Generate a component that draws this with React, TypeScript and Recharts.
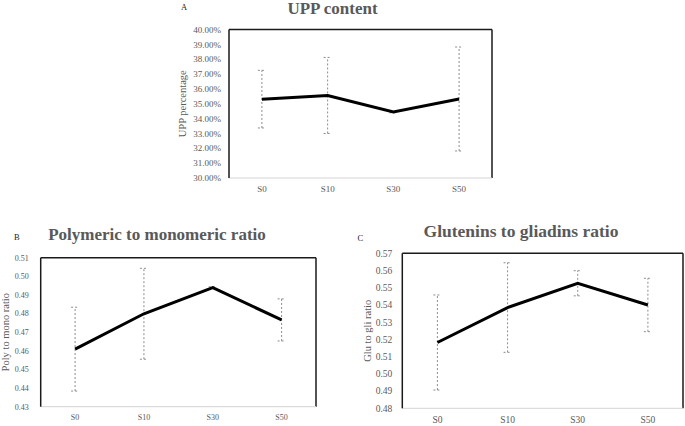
import React from 'react';
import { LineChart, Line, XAxis, YAxis, ErrorBar, CartesianGrid } from 'recharts';

const samples = ['S0', 'S10', 'S30', 'S50'];

const uppMean = [35.31, 35.56, 34.44, 35.32];
const uppErr = [1.94, 2.56, 0.05, 3.5];
const uppTicks = [30, 31, 32, 33, 34, 35, 36, 37, 38, 39, 40];

const polyMean = [0.4609, 0.4799, 0.4939, 0.4766];
const polyErr = [0.0225, 0.0244, 0.0005, 0.0113];
const polyTicks = [0.43, 0.44, 0.45, 0.46, 0.47, 0.48, 0.49, 0.5, 0.51];

const gluMean = [0.5182, 0.5385, 0.5526, 0.54];
const gluErr = [0.0276, 0.026, 0.0073, 0.0155];
const gluTicks = [0.48, 0.49, 0.5, 0.51, 0.52, 0.53, 0.54, 0.55, 0.56, 0.57];

const FONT = '"Liberation Serif", "Times New Roman", serif';
const GREY = '#595959';

const toRows = (mean: number[], err: number[]) =>
  samples.map((name, i) => ({ name, value: mean[i], err: err[i] }));

type PanelProps = {
  rows: { name: string; value: number; err: number }[];
  ticks: number[];
  fmt: (v: number) => string;
  left: number;
  top: number;
  width: number;
  height: number;
  margin: { top: number; right: number; bottom: number; left: number };
  yWidth: number;
  xHeight: number;
  xPad: number;
  yLabel: string;
  labelDx: number;
  fontSize: number;
  tickDx: number;
};

const Panel = (p: PanelProps) => {
  const domain: [number, number] = [p.ticks[0], p.ticks[p.ticks.length - 1]];
  return (
    <div style={{ position: 'absolute', left: p.left, top: p.top }}>
      <LineChart width={p.width} height={p.height} data={p.rows} margin={p.margin}>
        {/* top and right frame of the plot box */}
        <CartesianGrid
          stroke="#1a1a1a"
          strokeWidth={1.5}
          horizontalCoordinatesGenerator={({ offset }: any) => [offset.top]}
          verticalCoordinatesGenerator={({ offset }: any) => [offset.left + offset.width]}
        />
        <XAxis
          dataKey="name"
          tickLine={false}
          axisLine={{ stroke: '#d4d4d4', strokeWidth: 1 }}
          height={p.xHeight}
          padding={{ left: p.xPad, right: p.xPad }}
          interval={0}
          tick={{ fill: GREY, fontSize: p.fontSize, fontFamily: FONT }}
        />
        <YAxis
          type="number"
          domain={domain}
          ticks={p.ticks}
          interval={0}
          width={p.yWidth}
          tickLine={false}
          axisLine={{ stroke: '#1a1a1a', strokeWidth: 1.5 }}
          tickFormatter={p.fmt}
          tick={{ fill: GREY, fontSize: p.fontSize, fontFamily: FONT, dx: p.tickDx }}
          label={{
            value: p.yLabel,
            angle: -90,
            position: 'center',
            dx: p.labelDx,
            style: { fill: GREY, fontSize: 10.5, fontFamily: FONT, textAnchor: 'middle' },
          }}
        />
        <Line type="linear" dataKey="value" stroke="#000" strokeWidth={3} dot={false} isAnimationActive={false}>
          <ErrorBar dataKey="err" direction="y" width={4} stroke="#8c8c8c" strokeWidth={1} strokeDasharray="2 2" />
        </Line>
      </LineChart>
    </div>
  );
};

export default function App() {
  return (
    <div style={{ position: 'absolute', left: 0, top: 0, width: 685, height: 426, background: '#fff', overflow: 'hidden' }}>
      <Panel
        rows={toRows(uppMean, uppErr)}
        ticks={uppTicks}
        fmt={(v) => `${v.toFixed(2)}%`}
        left={160}
        top={0}
        width={360}
        height={205}
        margin={{ top: 29.5, right: 28, bottom: 7, left: 0 }}
        yWidth={69}
        xHeight={20}
        xPad={32.9}
        yLabel="UPP percentage"
        labelDx={-12.5}
        fontSize={9}
        tickDx={0}
      />
      <Panel
        rows={toRows(polyMean, polyErr)}
        ticks={polyTicks}
        fmt={(v) => v.toFixed(2)}
        left={0}
        top={215}
        width={330}
        height={211}
        margin={{ top: 42.7, right: 14, bottom: 1.3, left: 0 }}
        yWidth={40.7}
        xHeight={18}
        xPad={34.4}
        yLabel="Poly to mono ratio"
        labelDx={-15.3}
        fontSize={8}
        tickDx={-4}
      />
      <Panel
        rows={toRows(gluMean, gluErr)}
        ticks={gluTicks}
        fmt={(v) => v.toFixed(2)}
        left={345}
        top={215}
        width={340}
        height={211}
        margin={{ top: 38.3, right: 2, bottom: 0.7, left: 0 }}
        yWidth={57.3}
        xHeight={17}
        xPad={35.1}
        yLabel="Glu to gli ratio"
        labelDx={-6.6}
        fontSize={9.5}
        tickDx={-2}
      />
      <svg width={685} height={426} style={{ position: 'absolute', left: 0, top: 0, pointerEvents: 'none' }}>
        <g fontFamily={FONT}>
          <text x={181} y={10} fontSize={8.5} fill="#222">A</text>
          <text x={332.5} y={14} fontSize={17} fontWeight="bold" fill={GREY} textAnchor="middle">UPP content</text>
          <text x={14} y={239.5} fontSize={8.5} fill="#222">B</text>
          <text x={157} y={240} fontSize={17} fontWeight="bold" fill={GREY} textAnchor="middle">Polymeric to monomeric ratio</text>
          <text x={357.5} y={240.5} fontSize={8.5} fill="#222">C</text>
          <text x={521} y={236.5} fontSize={17.5} fontWeight="bold" fill={GREY} textAnchor="middle">Glutenins to gliadins ratio</text>
        </g>
      </svg>
    </div>
  );
}
